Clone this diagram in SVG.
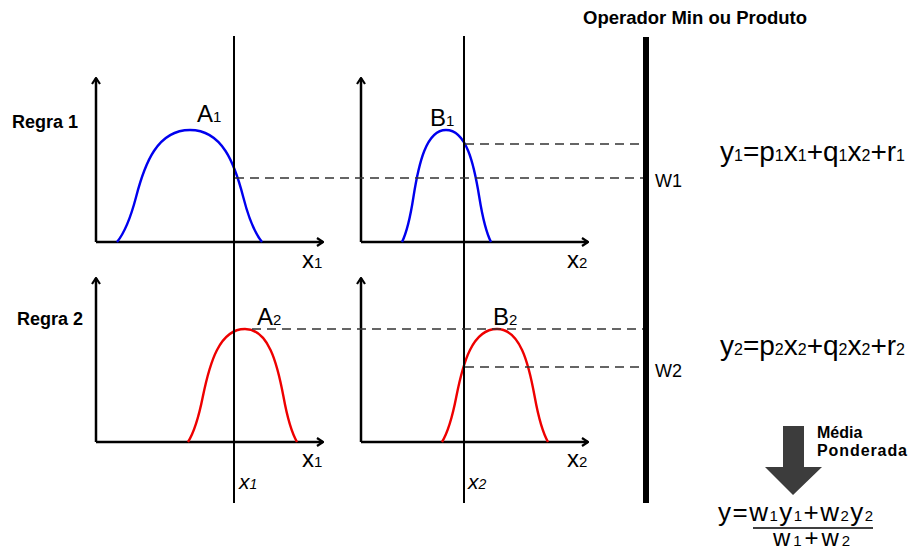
<svg xmlns="http://www.w3.org/2000/svg" width="913" height="551" viewBox="0 0 913 551">
<defs>
<marker id="arr" viewBox="0 0 10 10" refX="9" refY="5" markerWidth="10" markerHeight="10" markerUnits="userSpaceOnUse" orient="auto">
<path d="M3,1 L9,5 L3,9" fill="none" stroke="#000" stroke-width="2.2"/>
</marker>
</defs>
<style>
text{font-family:"Liberation Sans",Arial,sans-serif;fill:#000}
.axis{fill:none;stroke:#000;stroke-width:2.5;marker-end:url(#arr)}
.vline{stroke:#000;stroke-width:2;fill:none}
.dash{stroke:#333;stroke-width:1.3;stroke-dasharray:9,6;fill:none}
.blue{fill:none;stroke:#0000ee;stroke-width:2.4}
.red{fill:none;stroke:#ee0000;stroke-width:2.4}
.bold{font-weight:bold}
.lbl{font-size:24px}
.sub{font-size:15px}
.ital{font-style:italic;font-size:21px}
.eq{font-size:28px}
.eqs{font-size:16px}
.eq2{font-size:26px}
.eqs2{font-size:15px}
</style>
<rect width="913" height="551" fill="#fff"/>

<g id="plot-A1">
<path class="axis" d="M96,242 V78"/>
<path class="axis" d="M96,242 H323"/>
<path class="blue" d="M117,242 C124.3,233 131.6,214 136,197.2 C144.7,163.6 157.2,130 190,130 C222.4,130 234.6,163.6 243.3,197.2 C247.6,214 254.8,233 262,242"/>
<text x="197" y="122" class="lbl">A<tspan class="sub">1</tspan></text>
<text x="302" y="268" class="lbl">x<tspan class="sub">1</tspan></text>
</g>

<g id="plot-B1">
<path class="axis" d="M361,242 V78"/>
<path class="axis" d="M361,242 H588"/>
<path class="blue" d="M402,242 C406.4,233 410.8,214 413.4,197.2 C418.7,163.6 426.2,130 446,130 C466.3,130 473.9,163.6 479.3,197.2 C482,214 486.5,233 491,242"/>
<text x="430" y="126" class="lbl">B<tspan class="sub">1</tspan></text>
<text x="567" y="268" class="lbl">x<tspan class="sub">2</tspan></text>
</g>

<g id="plot-A2">
<path class="axis" d="M96,442 V278"/>
<path class="axis" d="M96,442 H323"/>
<path class="red" d="M188,442 C193.7,433 199.4,413.8 202.8,396.8 C209.7,362.9 219.4,329 245,329 C268.4,329 277.2,362.9 283.5,396.8 C286.6,413.8 291.8,433 297,442"/>
<text x="257" y="325" class="lbl">A<tspan class="sub">2</tspan></text>
<text x="302" y="467" class="lbl">x<tspan class="sub">1</tspan></text>
</g>

<g id="plot-B2">
<path class="axis" d="M361,442 V278"/>
<path class="axis" d="M361,442 H588"/>
<path class="red" d="M442,442 C447.5,433 453,413.8 456.3,396.8 C462.9,362.9 472.3,329 497,329 C520,329 528.6,362.9 534.7,396.8 C537.8,413.8 542.9,433 548,442"/>
<text x="493" y="325" class="lbl">B<tspan class="sub">2</tspan></text>
<text x="567" y="467" class="lbl">x<tspan class="sub">2</tspan></text>
</g>

<g id="labels">
<text x="12" y="128" class="bold" font-size="18" textLength="66">Regra 1</text>
<text x="17" y="325" class="bold" font-size="18" textLength="66">Regra 2</text>
<text x="583" y="24" class="bold" font-size="18.5">Operador Min ou Produto</text>
<text x="239" y="489" class="ital">x<tspan font-size="14">1</tspan></text>
<text x="468" y="489" class="ital">x<tspan font-size="14">2</tspan></text>
<text x="655" y="187" font-size="18">W1</text>
<text x="655" y="377" font-size="18">W2</text>
</g>

<g id="connectors">
<line class="vline" x1="234" y1="36" x2="234" y2="503"/>
<line class="vline" x1="464" y1="36" x2="464" y2="503"/>
<rect x="643" y="37" width="6" height="466" fill="#000"/>
<line class="dash" x1="235" y1="178" x2="643" y2="178"/>
<line class="dash" x1="465" y1="144" x2="643" y2="144"/>
<line class="dash" x1="252" y1="329" x2="643" y2="329"/>
<line class="dash" x1="465" y1="367" x2="643" y2="367"/>
</g>

<g id="equations">
<text x="720" y="161" class="eq">y<tspan class="eqs">1</tspan>=p<tspan class="eqs">1</tspan>x<tspan class="eqs">1</tspan>+q<tspan class="eqs">1</tspan>x<tspan class="eqs">2</tspan>+r<tspan class="eqs">1</tspan></text>
<text x="720" y="355" class="eq">y<tspan class="eqs">2</tspan>=p<tspan class="eqs">2</tspan>x<tspan class="eqs">2</tspan>+q<tspan class="eqs">2</tspan>x<tspan class="eqs">2</tspan>+r<tspan class="eqs">2</tspan></text>
</g>

<g id="weighted-average">
<polygon points="783,426 804,426 804,467 822,467 793,495 765,467 783,467" fill="#3c3c3c"/>
<text x="817" y="438" class="bold" font-size="16">Média</text>
<text x="817" y="456" class="bold" font-size="16" textLength="90">Ponderada</text>
<text x="718" y="521" class="eq2" textLength="155">y=w<tspan class="eqs2">1</tspan>y<tspan class="eqs2">1</tspan>+w<tspan class="eqs2">2</tspan>y<tspan class="eqs2">2</tspan></text>
<line x1="753" y1="528" x2="873" y2="528" stroke="#000" stroke-width="1.5"/>
<text x="773" y="546" font-size="24" textLength="77">w<tspan class="eqs2">1</tspan>+w<tspan class="eqs2">2</tspan></text>
</g>
</svg>
